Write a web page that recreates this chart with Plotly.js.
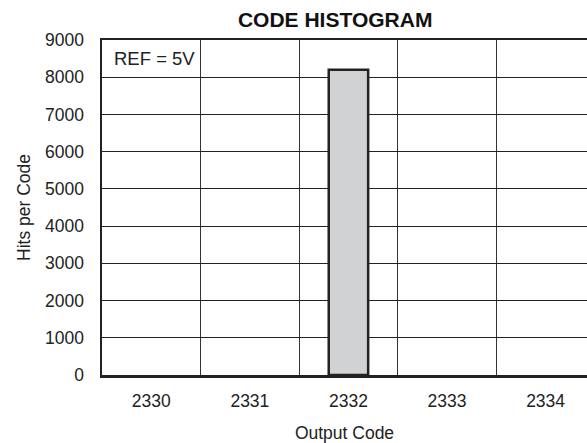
<!DOCTYPE html>
<html><head><meta charset="utf-8">
<script src="https://cdn.plot.ly/plotly-3.0.1.min.js"></script>
<style>html,body{margin:0;padding:0;background:#fff}#c{width:587px;height:443px}</style>
</head><body><div id="c"></div>
<script>
const categories = ['2330', '2331', '2332', '2333', '2334'];
const hits = [0, 0, 8200, 0, 0];
const yTicks = [0, 1000, 2000, 3000, 4000, 5000, 6000, 7000, 8000, 9000];

const idx = categories.map((c, i) => i);
const boundaries = idx.slice(0, -1).map(i => i + 0.5);
const F = 'Liberation Sans, Arial, sans-serif';

const trace = {
  type: 'bar', x: idx, y: hits, width: 0.4,
  marker: {color: '#d1d2d4', line: {color: '#222', width: hits.map(v => v > 0 ? 2.5 : 0)}},
  hoverinfo: 'skip'
};

const layout = {
  width: 587, height: 443,
  margin: {l: 102, r: 0, t: 40, b: 68},
  paper_bgcolor: '#fff', plot_bgcolor: '#fff',
  font: {family: F, color: '#222', size: 17},
  showlegend: false,
  title: {text: '<b>CODE HISTOGRAM</b>', font: {size: 21, color: '#111'}, x: 0.571, xref: 'container', xanchor: 'center', y: 0.955, yanchor: 'middle'},
  xaxis: {
    range: [-0.5, 4.42], tickmode: 'array', tickvals: idx, ticktext: categories,
    showgrid: false, zeroline: false, showline: true, mirror: true, linecolor: '#222', linewidth: 2.5,
    ticks: '', ticklabelstandoff: 8, tickfont: {size: 17.5},
    minor: {tickmode: 'array', tickvals: boundaries, showgrid: true, gridcolor: '#333', gridwidth: 1, ticks: ''},
    title: {text: 'Output Code', font: {size: 17.5}, standoff: 17}
  },
  yaxis: {
    range: [0, 9000], tickmode: 'array', tickvals: yTicks,
    showgrid: true, gridcolor: '#222', gridwidth: 1, zeroline: false,
    showline: true, linecolor: '#222', linewidth: 2.5,
    ticks: '', ticklabelstandoff: 12, tickfont: {size: 17.5},
    title: {text: 'Hits per Code', font: {size: 17.5}, standoff: 10}
  },
  annotations: [{
    text: 'REF = 5V', xref: 'x', yref: 'y', x: -0.5, y: 8500, xanchor: 'left', yanchor: 'middle',
    xshift: 10, showarrow: false, font: {size: 18.5, color: '#222'}
  }]
};

Plotly.newPlot('c', [trace], layout, {displayModeBar: false, staticPlot: true});
</script></body></html>
